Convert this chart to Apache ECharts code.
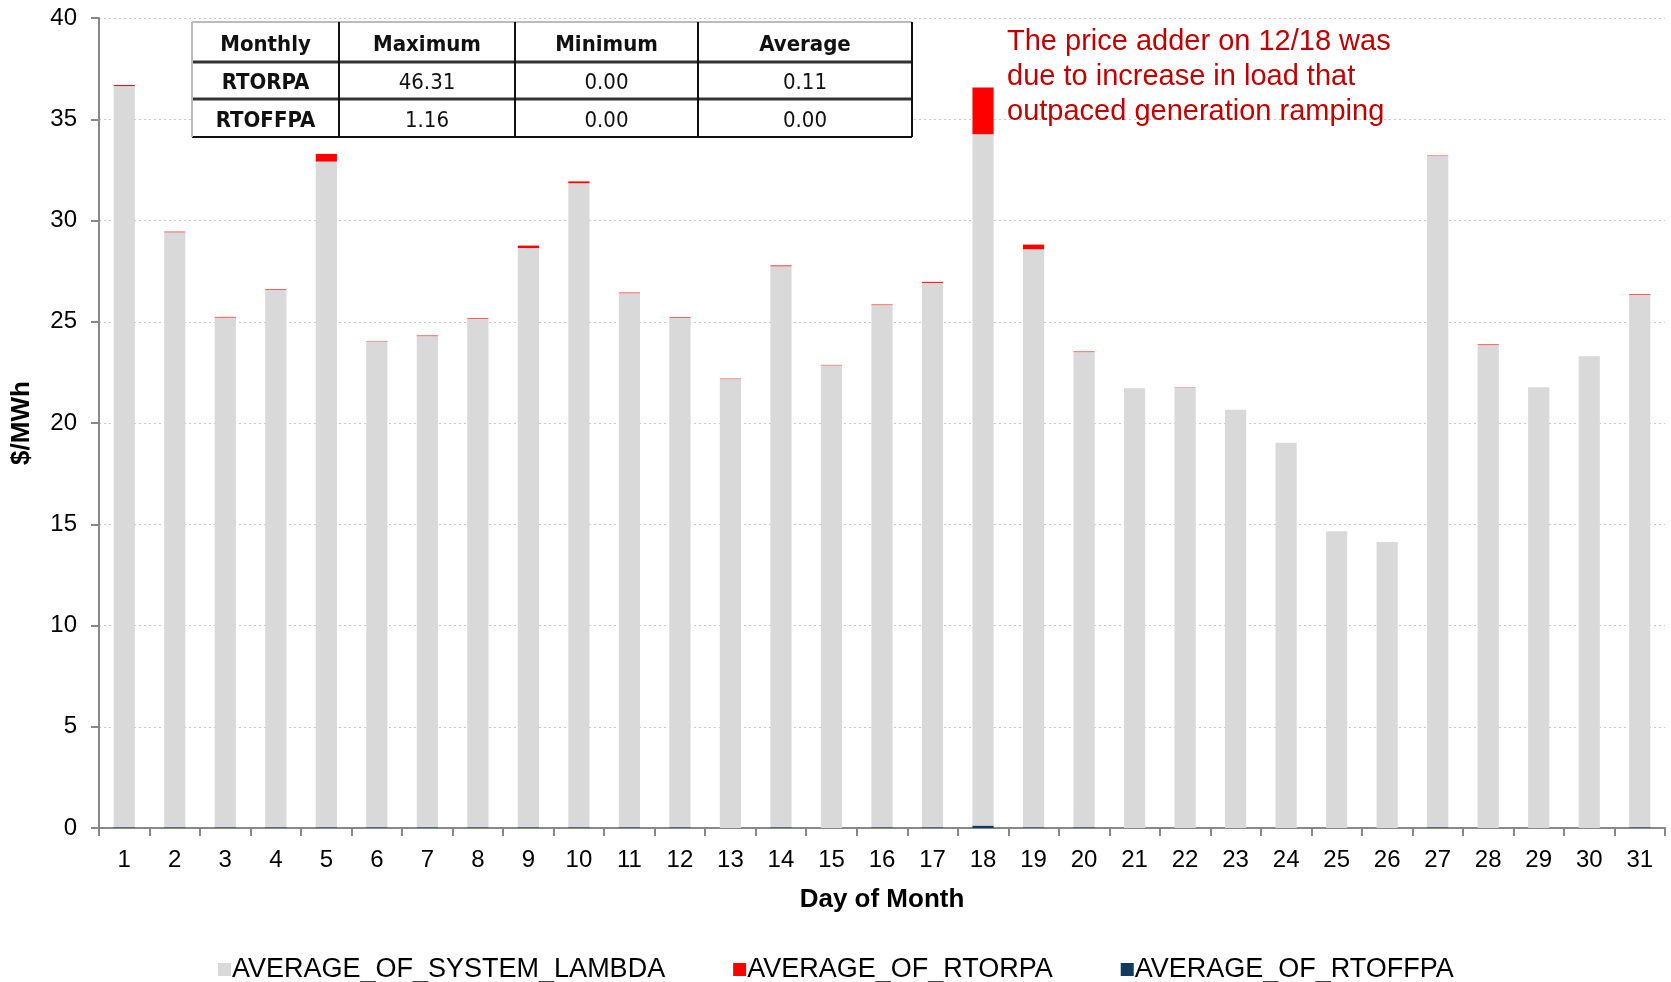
<!DOCTYPE html>
<html>
<head>
<meta charset="utf-8">
<script src="https://cdn.jsdelivr.net/npm/echarts@6/dist/echarts.min.js"></script>
<style>
  html, body { margin: 0; padding: 0; background: #fff; }
  #chart { width: 1671px; height: 982px; }
</style>
</head>
<body>
<div id="chart"></div>
<script>
// days of the month
const days = ['1', '2', '3', '4', '5', '6', '7', '8', '9', '10', '11', '12', '13', '14', '15', '16',
  '17', '18', '19', '20', '21', '22', '23', '24', '25', '26', '27', '28', '29', '30', '31']
// average system lambda ($/MWh)
const systemLambda = [36.6, 29.38, 25.17, 26.54, 32.87, 23.96, 24.25, 25.1, 28.6, 31.8, 26.37, 25.15, 22.17, 27.7, 22.85, 25.78,
  26.88, 34.14, 28.54, 23.46, 21.71, 21.76, 20.66, 19.02, 14.65, 14.12, 33.15, 23.85, 21.77, 23.3, 26.3]
// average RT online reliability price adder
const rtorpa = [0.05, 0.03, 0.03, 0.03, 0.38, 0.02, 0.03, 0.03, 0.12, 0.09, 0.03, 0.03, 0.02, 0.04, 0.02, 0.03,
  0.05, 2.31, 0.23, 0.03, 0, 0.01, 0, 0, 0, 0, 0.02, 0.03, 0, 0, 0.03]
// average RT offline reliability price adder
const rtoffpa = [0.04, 0.04, 0.04, 0.04, 0.04, 0.04, 0.04, 0.04, 0.04, 0.04, 0.04, 0.04, 0, 0.04, 0, 0.04,
  0.04, 0.12, 0.04, 0.04, 0, 0, 0, 0, 0, 0, 0.04, 0, 0, 0, 0.04]
const seriesNames = ['AVERAGE_OF_SYSTEM_LAMBDA', 'AVERAGE_OF_RTORPA', 'AVERAGE_OF_RTOFFPA']

// summary table
const tableHeader = ['Monthly', 'Maximum', 'Minimum', 'Average']
const tableRows = [
  ['RTORPA', '46.31', '0.00', '0.11'],
  ['RTOFFPA', '1.16', '0.00', '0.00']
]
const noteLines = ['The price adder on 12/18 was', 'due to increase in load that', 'outpaced generation ramping']

const font = 'Liberation Sans, Arial, sans-serif'
const tableFont = 'Liberation Sans Narrow, DejaVu Sans Condensed, Arial Narrow, sans-serif'

// table layout (pixels)
const colX = [192, 339, 515, 698, 912]
const rowY = [22, 62, 99, 137]

function buildTable() {
  const els = []
  els.push({ type: 'rect', shape: { x: colX[0], y: rowY[0], width: colX[4] - colX[0], height: rowY[3] - rowY[0] },
    style: { fill: '#fff', stroke: null }, z: 10 })
  const allRows = [tableHeader].concat(tableRows)
  allRows.forEach((row, r) => {
    row.forEach((txt, c) => {
      els.push({
        type: 'text', z: 12,
        x: (colX[c] + colX[c + 1]) / 2, y: (rowY[r] + rowY[r + 1]) / 2 + 3,
        style: {
          text: txt, align: 'center', verticalAlign: 'middle',
          font: ((r === 0 || c === 0) ? 'bold ' : '') + '22px ' + tableFont, fill: '#111'
        }
      })
    })
  })
  // horizontal lines
  rowY.forEach((y, i) => {
    const edge = i === 0
    els.push({ type: 'line', z: 11, shape: { x1: colX[0], y1: y, x2: colX[4], y2: y },
      style: { stroke: edge ? '#bbb' : (i === 3 ? '#111' : '#333'), lineWidth: (i === 1 || i === 2) ? 3 : 2 } })
  })
  // vertical lines
  colX.forEach((x, i) => {
    els.push({ type: 'line', z: 11, shape: { x1: x, y1: rowY[0], x2: x, y2: rowY[3] },
      style: { stroke: i === 0 ? '#bbb' : '#111', lineWidth: 2 } })
  })
  return els
}

const chart = echarts.init(document.getElementById('chart'))
chart.setOption({
  animation: false,
  textStyle: { fontFamily: font },
  grid: { left: 99, right: 6, top: 18, bottom: 154, containLabel: false },
  legend: {
    data: seriesNames,
    left: 218,
    top: 956,
    padding: 0,
    itemWidth: 13,
    itemHeight: 13,
    itemGap: 68,
    icon: 'rect',
    textStyle: { fontSize: 27, color: '#000', fontFamily: font, padding: [0, 0, 0, -4] }
  },
  xAxis: {
    type: 'category',
    data: days,
    name: 'Day of Month',
    nameLocation: 'middle',
    nameGap: 72,
    nameMoveOverlap: false,
    nameTextStyle: { fontSize: 26, fontWeight: 'bold', color: '#000', verticalAlign: 'middle' },
    axisLine: { lineStyle: { color: '#888', width: 2 } },
    axisTick: { show: true, length: 8, interval: 0, lineStyle: { color: '#888', width: 2 } },
    axisLabel: { fontSize: 24, color: '#000', margin: 20, interval: 0 }
  },
  yAxis: {
    type: 'value',
    min: 0,
    max: 40,
    interval: 5,
    name: '$/MWh',
    nameLocation: 'middle',
    nameRotate: 90,
    nameGap: 64,
    nameTextStyle: { fontSize: 26, fontWeight: 'bold', color: '#000' },
    axisLine: { show: true, lineStyle: { color: '#888', width: 2 } },
    axisTick: { show: true, length: 8, lineStyle: { color: '#888', width: 2 } },
    axisLabel: { fontSize: 24, color: '#000', margin: 22 },
    splitLine: { show: true, lineStyle: { color: '#c8c8c8', type: [2, 3], width: 1 } }
  },
  series: [
    {
      name: seriesNames[2], type: 'bar', stack: 'total', barWidth: '42%',
      itemStyle: { color: '#123a5c' }, data: rtoffpa
    },
    {
      name: seriesNames[0], type: 'bar', stack: 'total', barWidth: '42%',
      itemStyle: { color: '#d9d9d9' }, data: systemLambda
    },
    {
      name: seriesNames[1], type: 'bar', stack: 'total', barWidth: '42%',
      itemStyle: { color: '#ff0000' }, data: rtorpa
    }
  ],
  graphic: buildTable().concat(noteLines.map((t, i) => ({
    type: 'text', z: 12,
    x: 1007, y: 42 + i * 35,
    style: { text: t, font: '29px ' + font, fill: '#c00000', verticalAlign: 'middle' }
  })))
})
</script>
</body>
</html>
